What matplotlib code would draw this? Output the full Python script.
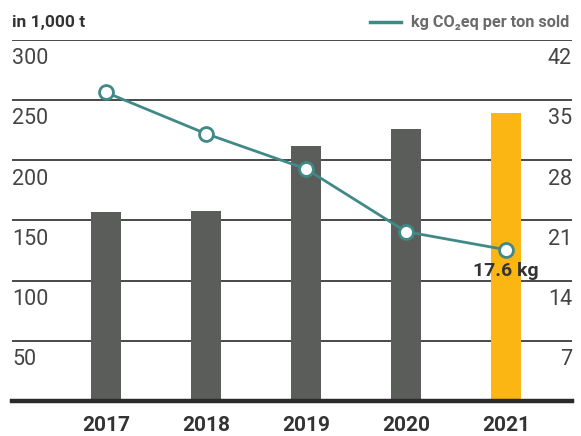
import matplotlib
matplotlib.use("Agg")
import matplotlib.pyplot as plt
from matplotlib.transforms import blended_transform_factory, offset_copy

plt.rcParams["font.family"] = ["Roboto", "DejaVu Sans"]

years = ["2017", "2018", "2019", "2020", "2021"]
sold_kt = [157, 158, 212, 226, 239]              # left axis, in 1,000 t
co2_per_ton = [35.9, 31.1, 27.0, 19.7, 17.6]      # right axis, kg CO2eq per ton sold
left_ticks = [50, 100, 150, 200, 250, 300]
right_ticks = [7, 14, 21, 28, 35, 42]

GRAY = "#5b5d5b"
ORANGE = "#fbb614"
TEAL = "#3f8a87"
TEXT = "#333333"

W, H = 581, 436
fig = plt.figure(figsize=(W / 100, H / 100), dpi=100)
ax = fig.add_axes([12 / W, 1 - 401 / H, (572 - 12) / W, (401 - 40) / H])
ax2 = ax.twinx()

x = list(range(len(years)))
colors = [GRAY] * (len(years) - 1) + [ORANGE]
ax.bar(x, sold_kt, width=0.3, color=colors, zorder=3)

ax.set_xlim(-0.94, 4.66)
ax.set_ylim(0, 300)
ax2.set_ylim(0, 42)

# gridlines + tick labels inside plot, below each line
tr_l = offset_copy(blended_transform_factory(ax.transAxes, ax.transData), fig=fig, x=0, y=-6, units="points")
tr_r = offset_copy(blended_transform_factory(ax2.transAxes, ax2.transData), fig=fig, x=0, y=-6, units="points")
for v in left_ticks:
    ax.axhline(v, color="#3a3a3a", lw=1.3, zorder=1)
    ax.text(0, v, str(v), transform=tr_l, ha="left", va="top",
            fontsize=15.5, color="#444444")
for v in right_ticks:
    ax2.text(1, v, str(v), transform=tr_r, ha="right", va="top",
             fontsize=15.5, color="#444444")
ax.axhline(0, color="#2a2a2a", lw=3.2, zorder=4, clip_on=False)

ax2.plot(x, co2_per_ton, color=TEAL, lw=2, marker="o", markersize=10,
         markerfacecolor="white", markeredgecolor=TEAL, markeredgewidth=2, zorder=5)
ax2.annotate(f"{co2_per_ton[-1]} kg", (x[-1], co2_per_ton[-1]), xytext=(0, -9),
             textcoords="offset points", ha="center", va="top",
             fontsize=14, fontweight="bold", color=TEXT)

for a in (ax, ax2):
    a.set_xticks([])
    a.set_yticks([])
    for s in a.spines.values():
        s.set_visible(False)
    a.patch.set_visible(False)

for xi, yr in zip(x, years):
    ax.text(xi, -0.067, yr, transform=blended_transform_factory(ax.transData, ax.transAxes),
            ha="center", va="center", fontsize=15, fontweight="bold", color=TEXT)

fig.text(12 / W, 1 - 22 / H, "in 1,000 t", ha="left", va="center",
         fontsize=12.5, fontweight="bold", color=TEXT)
fig.lines.append(plt.Line2D([370 / W, 401 / W], [1 - 22 / H, 1 - 22 / H],
                            transform=fig.transFigure, color=TEAL, lw=2.5))
fig.text(569 / W, 1 - 22 / H, "kg CO\u2082eq per ton sold", ha="right", va="center",
         fontsize=11.7, fontweight="bold", color="#6a6a6a")

fig.savefig("out.png", dpi=100)
